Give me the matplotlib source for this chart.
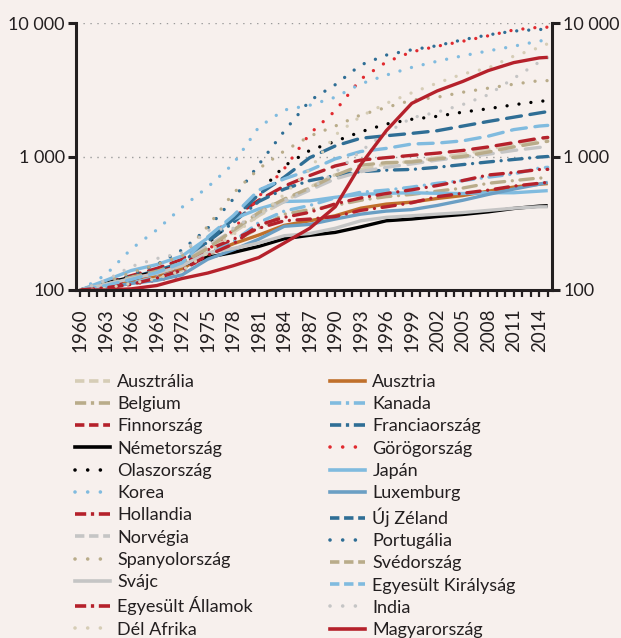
import matplotlib
matplotlib.use("Agg")
import matplotlib.pyplot as plt
from matplotlib.lines import Line2D
from matplotlib.ticker import FixedLocator, NullLocator

plt.rcParams['font.family'] = ['Lato', 'DejaVu Sans']

years = [1960, 1963, 1966, 1969, 1972, 1975, 1978, 1981, 1984, 1987,
         1990, 1993, 1996, 1999, 2002, 2005, 2008, 2011, 2014, 2015]

# index, 1960 = 100
ausztralia = [100, 104, 112, 122, 140, 200, 270, 360, 460, 590, 730, 800, 880, 920, 980, 1040, 1130, 1230, 1330, 1375]
ausztria = [100, 108, 117, 128, 145, 185, 222, 258, 305, 330, 360, 410, 440, 455, 485, 510, 550, 590, 620, 627]
belgium = [100, 104, 114, 124, 140, 190, 230, 290, 370, 400, 430, 470, 500, 520, 550, 580, 630, 660, 690, 690]
kanada = [100, 104, 112, 125, 140, 185, 230, 320, 390, 430, 490, 540, 560, 590, 630, 660, 700, 740, 820, 830]
finnorszag = [100, 113, 128, 145, 170, 245, 350, 470, 600, 720, 850, 940, 980, 1020, 1060, 1110, 1180, 1270, 1370, 1390]
franciaorszag = [100, 112, 124, 140, 160, 230, 320, 460, 570, 660, 720, 770, 790, 800, 830, 870, 910, 950, 990, 1000]
nemetorszag = [100, 112, 125, 136, 154, 176, 191, 212, 242, 257, 270, 297, 330, 340, 355, 368, 385, 408, 425, 428]
gorogorszag = [100, 103, 110, 118, 128, 200, 280, 500, 810, 1480, 2200, 3800, 5100, 6080, 6700, 7300, 8020, 8870, 9300, 9300]
olaszorszag = [100, 113, 128, 135, 150, 215, 350, 535, 850, 1110, 1300, 1530, 1750, 1900, 2000, 2150, 2280, 2440, 2590, 2620]
japan = [100, 118, 140, 155, 180, 245, 340, 405, 460, 465, 495, 520, 530, 535, 530, 528, 535, 535, 550, 555]
korea = [100, 130, 203, 282, 418, 590, 880, 1660, 2230, 2420, 2780, 3500, 4070, 4650, 5170, 5680, 6180, 6700, 7330, 7450]
luxemburg = [100, 104, 112, 118, 130, 170, 200, 240, 300, 310, 340, 370, 390, 400, 430, 470, 520, 570, 620, 640]
hollandia = [100, 106, 120, 135, 155, 200, 240, 290, 330, 340, 355, 395, 420, 450, 500, 530, 560, 600, 630, 640]
uj_zeland = [100, 110, 120, 135, 160, 230, 340, 520, 700, 980, 1200, 1370, 1430, 1490, 1560, 1690, 1830, 1970, 2120, 2170]
norvegia = [100, 110, 122, 135, 160, 215, 280, 370, 460, 560, 680, 770, 830, 880, 940, 990, 1040, 1110, 1170, 1185]
portugalia = [100, 112, 130, 155, 200, 290, 480, 870, 1550, 2620, 3450, 4850, 5750, 6300, 6760, 7490, 8150, 8700, 8950, 8950]
spanyolorszag = [100, 115, 135, 155, 180, 300, 530, 810, 1100, 1420, 1690, 2050, 2330, 2640, 2780, 3030, 3250, 3480, 3700, 3700]
svedorszag = [100, 110, 125, 138, 160, 205, 280, 380, 480, 580, 720, 860, 900, 910, 960, 1000, 1080, 1180, 1270, 1300]
svajc = [100, 110, 122, 133, 152, 190, 205, 225, 255, 265, 290, 330, 350, 360, 370, 380, 395, 410, 420, 420]
egyesult_kiralysag = [100, 108, 120, 135, 160, 250, 360, 560, 680, 790, 960, 1090, 1150, 1240, 1260, 1310, 1420, 1590, 1690, 1710]
egyesult_allamok = [100, 104, 110, 123, 141, 182, 221, 307, 350, 382, 442, 489, 528, 563, 606, 660, 727, 758, 799, 801]
india = [100, 118, 150, 172, 190, 280, 290, 380, 470, 570, 760, 1100, 1500, 1950, 2150, 2450, 2900, 3850, 5100, 5500]
del_afrika = [100, 103, 112, 122, 140, 190, 260, 360, 520, 800, 1450, 2000, 2500, 3000, 3550, 4150, 4600, 5650, 6550, 7000]
magyarorszag = [100, 100, 102, 108, 122, 134, 152, 175, 225, 290, 420, 870, 1560, 2500, 3100, 3650, 4400, 5050, 5480, 5530]

beige = '#d6cdb6'
khaki = '#b9ac8a'
red = '#b5212b'
bright_red = '#e12a2f'
dblue = '#2f6e95'
lblue = '#80bbdf'
mblue = '#6b9fc4'
grey = '#c5c5c5'
orange = '#c0702b'

# line styles: (in chart, in legend)
styles = {
    'solid': ('-', '-'),
    'dashed': ((0, (4.5, 2.6)), (0, (2.6, 1.3))),
    'dotted': ((0, (0.01, 3.6)), (0, (0.01, 3.5))),
    'dashdot': ((0, (4, 2.3, 0.01, 2.3)), (0, (3.1, 1.3, 0.9, 1.3))),
}

# name, values, color, style
series = [
    ('Ausztrália', ausztralia, beige, 'dashed'),
    ('Ausztria', ausztria, orange, 'solid'),
    ('Belgium', belgium, khaki, 'dashdot'),
    ('Kanada', kanada, lblue, 'dashdot'),
    ('Finnország', finnorszag, red, 'dashed'),
    ('Franciaország', franciaorszag, dblue, 'dashdot'),
    ('Németország', nemetorszag, 'black', 'solid'),
    ('Görögország', gorogorszag, bright_red, 'dotted'),
    ('Olaszország', olaszorszag, 'black', 'dotted'),
    ('Japán', japan, lblue, 'solid'),
    ('Korea', korea, lblue, 'dotted'),
    ('Luxemburg', luxemburg, mblue, 'solid'),
    ('Hollandia', hollandia, red, 'dashdot'),
    ('Új Zéland', uj_zeland, dblue, 'dashed'),
    ('Norvégia', norvegia, grey, 'dashed'),
    ('Portugália', portugalia, dblue, 'dotted'),
    ('Spanyolország', spanyolorszag, khaki, 'dotted'),
    ('Svédország', svedorszag, khaki, 'dashed'),
    ('Svájc', svajc, grey, 'solid'),
    ('Egyesült Királyság', egyesult_kiralysag, lblue, 'dashed'),
    ('Egyesült Államok', egyesult_allamok, red, 'dashdot'),
    ('India', india, grey, 'dotted'),
    ('Dél Afrika', del_afrika, beige, 'dotted'),
    ('Magyarország', magyarorszag, red, 'solid'),
]

bg = '#f7f0ed'
axcol = '#231f20'

fig = plt.figure(figsize=(6.21, 6.38), dpi=100, facecolor=bg)
ax = fig.add_axes([76 / 621, 1 - 290 / 638, 476 / 621, 267 / 638])
ax.set_facecolor(bg)

x = [y - 1960 for y in years]
handles = []
for name, vals, col, st in series:
    ls_chart, ls_leg = styles[st]
    ax.plot(x, vals, color=col, lw=2.4, linestyle=ls_chart,
            dash_capstyle='round', solid_capstyle='butt', solid_joinstyle='round')
    cap = 'round' if st == 'dotted' else 'butt'
    handles.append(Line2D([], [], color=col, lw=2.6, linestyle=ls_leg,
                          dash_capstyle=cap, label=name))

ax.set_yscale('log')
ax.set_ylim(100, 10000)
ax.set_xlim(-0.5, 55.5)

yt = [100, 1000, 10000]
ylab = ['100', '1 000', '10 000']
ax.yaxis.set_major_locator(FixedLocator(yt))
ax.yaxis.set_minor_locator(NullLocator())
ax.set_yticklabels(ylab)
for v in yt[1:]:
    ax.axhline(v, color='#9a9a9a', lw=1.0, linestyle=(0, (1, 4)), zorder=0)

ax.set_xticks(range(0, 55, 3))
ax.set_xticklabels([str(1960 + i) for i in range(0, 55, 3)], rotation=90)
ax.set_xticks(range(0, 56), minor=True)

for s in ['left', 'right', 'bottom']:
    ax.spines[s].set_linewidth(2.2)
    ax.spines[s].set_color(axcol)
ax.spines['top'].set_visible(False)

ax.tick_params(axis='x', which='both', direction='out', length=5, width=1.6,
               color=axcol, labelsize=13.5, labelcolor=axcol, pad=8)
ax.tick_params(axis='y', which='major', direction='out', length=6, width=2.2,
               color=axcol, labelsize=13, labelcolor=axcol, pad=2)

ax2 = ax.twinx()
ax2.set_yscale('log')
ax2.set_ylim(100, 10000)
ax2.yaxis.set_major_locator(FixedLocator(yt))
ax2.yaxis.set_minor_locator(NullLocator())
ax2.set_yticklabels(ylab)
for s in ax2.spines.values():
    s.set_visible(False)
ax2.tick_params(axis='y', which='major', direction='out', length=6, width=2.2,
                color=axcol, labelsize=13, labelcolor=axcol, pad=2)

leg_kw = dict(frameon=False, loc='upper left', borderpad=0, borderaxespad=0,
              handlelength=1.95, handletextpad=0.4, labelspacing=0.345,
              prop={'size': 13}, labelcolor=axcol)
fig.legend(handles=handles[0::2], bbox_to_anchor=(75 / 621, 1 - 374 / 638), **leg_kw)
fig.legend(handles=handles[1::2], bbox_to_anchor=(330 / 621, 1 - 374 / 638), **leg_kw)

fig.savefig('out.png', dpi=100, facecolor=bg)
